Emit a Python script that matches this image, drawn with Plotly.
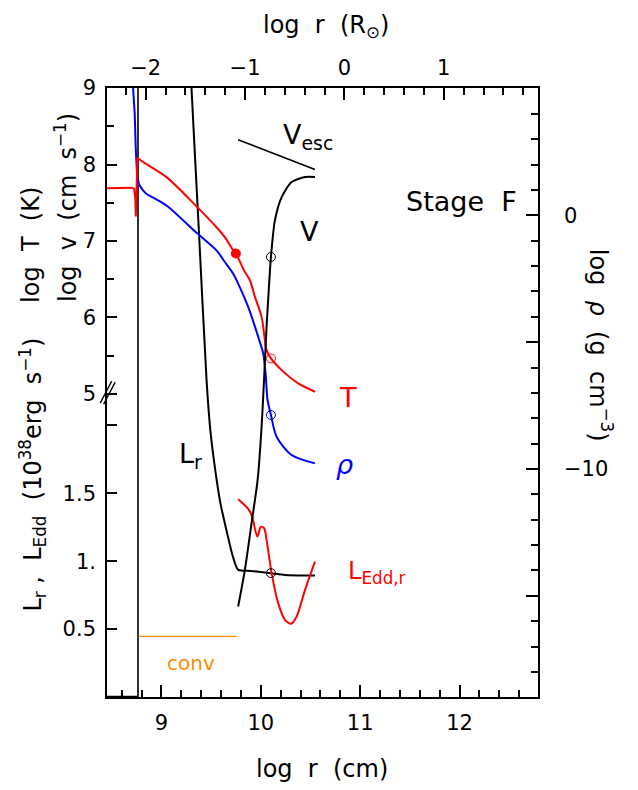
import plotly.graph_objects as go

# ---------------- data ----------------
LOG_RSUN = 10.842  # log R_sun in cm

# temperature (log T, K)
T_logr = [8.452, 8.600, 8.700, 8.725, 8.737, 8.742, 8.748, 8.758, 8.800, 9.050,
          9.353, 9.554, 9.638, 9.722, 9.749, 9.840, 9.890, 9.941, 10.008, 10.041,
          10.058, 10.102, 10.210, 10.377, 10.545]
T_logT = [7.690, 7.695, 7.697, 7.680, 7.550, 7.320, 7.750, 8.090, 8.045, 7.835,
          7.453, 7.180, 7.050, 6.880, 6.836, 6.595, 6.487, 6.269, 6.008, 5.704,
          5.573, 5.465, 5.312, 5.138, 5.029]
T_PEAK = 7  # index of the temperature spike at the white dwarf surface

# density (log rho, g cm^-3)
rho_logr = [8.710, 8.714, 8.731, 8.741, 8.754, 8.774, 8.815, 8.849, 9.050, 9.353,
            9.554, 9.638, 9.722, 9.772, 9.873, 9.974, 10.024, 10.048, 10.068, 10.102,
            10.159, 10.310, 10.545]
rho_val = [5.30, 5.03, 4.00, 2.69, 1.64, 1.22, 0.98, 0.85, 0.39, -0.69,
           -1.38, -1.84, -2.30, -2.69, -3.61, -4.79, -5.44, -6.23, -7.28, -7.87,
           -8.73, -9.45, -9.78]
RHO_KNEE = 5  # index where the steep inner drop turns over

# velocity (log v, cm s^-1)
V_logr = [9.772, 9.840, 9.907, 9.968, 10.008, 10.034, 10.058, 10.082, 10.102, 10.142,
          10.210, 10.310, 10.445, 10.545]
V_logv = [2.222, 2.701, 3.311, 3.876, 4.572, 5.225, 5.877, 6.400, 6.791, 7.270,
          7.574, 7.770, 7.836, 7.836]

# escape velocity
Vesc_logr = [9.772, 10.545]
Vesc_logv = [8.324, 7.936]

# luminosity L_r (1e38 erg/s): inner part and envelope part
Lr_in_logr = [8.452, 8.764, 8.764]
Lr_in_L = [0.004, 0.004, 4.90]
Lr_logr = [9.296, 9.302, 9.378, 9.454, 9.492, 9.532, 9.593, 9.653, 9.719, 9.772,
           9.900, 10.102, 10.243, 10.545]
Lr_L = [4.60, 4.49, 3.414, 2.333, 1.965, 1.722, 1.429, 1.232, 1.034, 0.936,
        0.928, 0.912, 0.899, 0.894]

# local Eddington luminosity
LEdd_logr = [9.772, 9.873, 9.913, 9.964, 10.001, 10.034, 10.058, 10.109, 10.175, 10.243,
             10.303, 10.361, 10.445, 10.545]
LEdd_L = [1.456, 1.385, 1.328, 1.181, 1.254, 1.243, 1.157, 0.912, 0.691, 0.568,
          0.539, 0.593, 0.789, 0.997]

# convective region
conv_logr = [8.770, 9.756]
conv_L = [0.446, 0.446]

# special points
crit_logr = [10.102]
crit_logv = [6.791]
crit_logT = [5.465]
crit_rho = [-7.87]
crit_L = [0.912]
phot_logr = [9.749]
phot_logT = [6.836]

# tick labels
x_tickvals = [9, 10, 11, 12]
x_ticktext = ["9", "10", "11", "12"]
top_tickvals = [-2, -1, 0, 1]
top_ticktext = ["\u22122", "\u22121", "0", "1"]
T_tickvals = [5, 6, 7, 8, 9]
T_ticktext = ["5", "6", "7", "8", "9"]
L_tickvals = [0.5, 1.0, 1.5, 2.0]
L_ticktext = ["0.5", "1.", "1.5", ""]
rho_tickvals = [-15, -10, -5, 0]
rho_ticktext = ["", "\u221210", "", "0"]

# ---------------- layout geometry ----------------
# page body has an 8px margin, so the figure is drawn 8px smaller
OFF = 8
W, H = 638 - 2 * OFF, 790 - 2 * OFF
PL, PR, PT, PB = 107.3, 537.7, 87.5, 697.3   # plot frame in window pixels
XR = [8.452, 12.79]
FONT = "DejaVu Sans"


def pp(px, py):
    return (px - PL) / (PR - PL), (PB - py) / (PB - PT)


fig = go.Figure()
LW = 2.0


def line(x, y, color, yaxis, width=LW, smooth=None):
    ln = dict(color=color, width=width)
    if smooth:
        ln.update(shape="spline", smoothing=smooth)
    fig.add_trace(go.Scatter(x=x, y=y, mode="lines", line=ln, yaxis=yaxis,
                             showlegend=False, hoverinfo="skip"))


def ring(x, y, color, yaxis):
    fig.add_trace(go.Scatter(x=x, y=y, mode="markers", yaxis=yaxis, showlegend=False,
                             marker=dict(symbol="circle-open", size=9, color=color,
                                         line=dict(width=1))))


# L axis (y)
line(Lr_in_logr, Lr_in_L, "black", "y", width=1.6)
line(Lr_logr, Lr_L, "black", "y", smooth=0.6)
line(LEdd_logr, LEdd_L, "red", "y", smooth=0.7)
line(conv_logr, conv_L, "#FF8C00", "y", width=1.2)
ring(crit_logr, crit_L, "black", "y")

# log T / log v axis (y3)
line(T_logr[:T_PEAK + 1], T_logT[:T_PEAK + 1], "red", "y3")
line(T_logr[T_PEAK:], T_logT[T_PEAK:], "red", "y3", smooth=0.9)
line(V_logr, V_logv, "black", "y3", smooth=0.7)
line(Vesc_logr, Vesc_logv, "black", "y3", width=1.6)
ring(crit_logr, crit_logv, "black", "y3")
ring(crit_logr, crit_logT, "red", "y3")
fig.add_trace(go.Scatter(x=phot_logr, y=phot_logT, mode="markers", yaxis="y3",
                         marker=dict(symbol="circle", size=10, color="red"), showlegend=False))

# log rho axis (y2)
line(rho_logr[:RHO_KNEE + 1], rho_val[:RHO_KNEE + 1], "blue", "y2")
line(rho_logr[RHO_KNEE:], rho_val[RHO_KNEE:], "blue", "y2", smooth=0.8)
ring(crit_logr, crit_rho, "blue", "y2")

# empty trace so that the top (R_sun) axis is created
fig.add_trace(go.Scatter(x=[None], y=[None], xaxis="x2", yaxis="y", mode="lines",
                         showlegend=False, hoverinfo="skip"))

tickfont = dict(family=FONT, size=21, color="black")


def minor_vals(start, stop, step, majors):
    out = []
    v = start
    while v <= stop + 1e-9:
        if all(abs(v - m) > 1e-6 for m in majors):
            out.append(round(v, 4))
        v += step
    return out


x_minor = minor_vals(8.6, 12.6, 0.2, x_tickvals)
top_minor = minor_vals(-2.2, 1.8, 0.2, top_tickvals)
T_minor = [5.5, 6.5, 7.5, 8.5]
rho_minor = [v for v in range(-18, 5) if v % 5 != 0]

TW = 1.6
axis_common = dict(showgrid=False, zeroline=False, ticks="inside", tickcolor="black",
                   tickwidth=TW, tickfont=tickfont, showline=True, linecolor="black",
                   linewidth=1.6, layer="above traces")


def minor(vals, ln=7):
    return dict(tickmode="array", tickvals=vals, ticks="inside", ticklen=ln,
                tickcolor="black", tickwidth=TW, showgrid=False)


fig.update_layout(
    width=W, height=H,
    margin=dict(l=PL - OFF, r=W - (PR - OFF), t=PT - OFF, b=H - (PB - OFF), pad=0,
                autoexpand=False),
    paper_bgcolor="white", plot_bgcolor="white",
    font=dict(family=FONT, color="black"),
    xaxis=dict(range=XR, tickmode="array", tickvals=x_tickvals, ticktext=x_ticktext,
               ticklen=12, ticklabelstandoff=6, minor=minor(x_minor), **axis_common),
    xaxis2=dict(range=[XR[0] - LOG_RSUN, XR[1] - LOG_RSUN], overlaying="x", side="top",
                anchor="y", tickmode="array", tickvals=top_tickvals, ticktext=top_ticktext,
                ticklen=12, ticklabelstandoff=3, minor=minor(top_minor), **axis_common),
    yaxis=dict(range=[0, 4.484], tickmode="array", tickvals=L_tickvals, ticktext=L_ticktext,
               ticklen=10, ticklabelstandoff=5, **axis_common),
    yaxis3=dict(range=[1.039, 9.0], overlaying="y", side="left", anchor="x",
                tickmode="array", tickvals=T_tickvals, ticktext=T_ticktext,
                ticklen=10, ticklabelstandoff=5, minor=minor(T_minor), **axis_common),
    yaxis2=dict(range=[-18.99, 5.02], overlaying="y", side="right", anchor="x",
                tickmode="array", tickvals=rho_tickvals, ticktext=rho_ticktext,
                ticklen=12, ticklabelstandoff=20, minor=minor(rho_minor), **axis_common),
)

annots = []


def add_text(text, px, py, size, color="black", angle=0, xanchor="center", yanchor="middle"):
    x, y = pp(px, py)
    annots.append(dict(text=text, x=x, y=y, xref="paper", yref="paper", showarrow=False,
                       textangle=angle, xanchor=xanchor, yanchor=yanchor,
                       font=dict(family=FONT, size=size, color=color)))


TS = 24
add_text("log  r  (cm)", 322, 769, TS)
add_text("log  r  (R<sub>\u2299</sub>)", 326, 26, TS)
add_text("log  T  (K)", 32, 245, TS, angle=-90)
add_text("log  v  (cm  s<sup>\u22121</sup>)", 67, 207, TS, angle=-90)
add_text("L<sub>r</sub> ,  L<sub>Edd</sub>  (10<sup>38</sup>erg  s<sup>\u22121</sup>)", 33, 475, TS, angle=-90)
add_text("log  <i>\u03c1</i>  (g  cm<sup>\u22123</sup>)", 600, 345, TS, angle=90)

LS = 27
add_text("Stage  F", 461, 201, LS)
add_text("V<sub>esc</sub>", 281, 136, LS, xanchor="left")
add_text("V", 310, 231, LS)
add_text("T", 348, 397, LS, color="red")
add_text("<i>\u03c1</i>", 344, 464, LS, color="blue")
add_text("L<sub>Edd,r</sub>", 346, 573, 24, color="red", xanchor="left")
add_text("L<sub>r</sub>", 177, 455, LS, xanchor="left")
add_text("conv", 191, 663, 20, color="#FF8C00")

fig.update_layout(annotations=annots)

# axis break mark on the left axis
shapes = []
for (x0, y0, x1, y1) in [(100.5, 403, 112, 381), (104, 404, 115.5, 382)]:
    a0, b0 = pp(x0, y0)
    a1, b1 = pp(x1, y1)
    shapes.append(dict(type="line", xref="paper", yref="paper", x0=a0, y0=b0, x1=a1, y1=b1,
                       line=dict(color="black", width=1.3)))
fig.update_layout(shapes=shapes)

fig.write_html("out.html")
